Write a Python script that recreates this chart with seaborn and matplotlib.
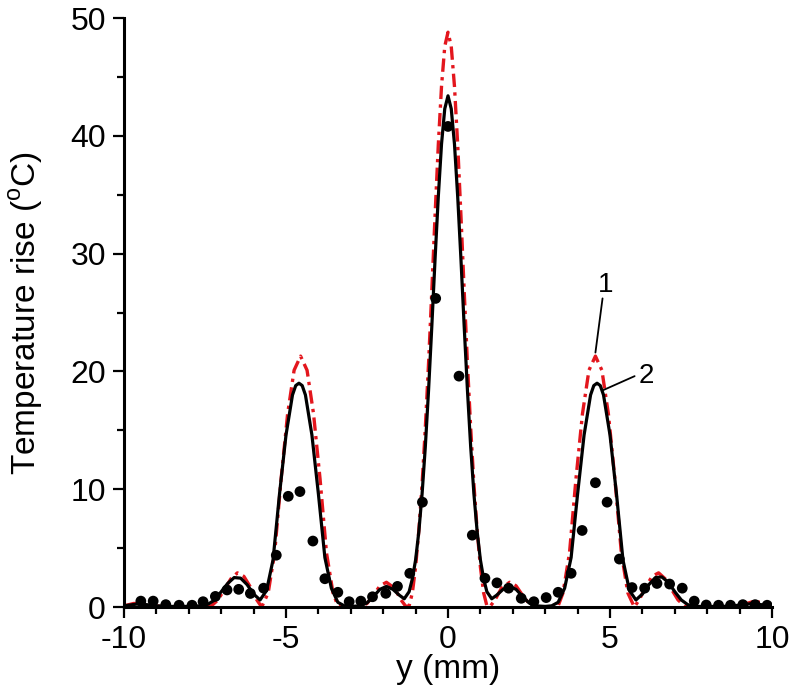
import matplotlib
matplotlib.use("Agg")
import matplotlib.pyplot as plt
import seaborn as sns
from matplotlib.ticker import MultipleLocator

# curve 1 (red dash-dot), y in mm and temperature rise in C
y_curve1 = [-10, -9.7, -9.4, -9.1, -8.7, -8.0, -7.5, -7.3, -7.1, -6.9, -6.7, -6.5, -6.3, -6.1, -5.9,
            -5.75, -5.55, -5.35, -5.15, -4.95, -4.75, -4.55, -4.35, -4.15, -3.95, -3.75, -3.55, -3.4,
            -3.2, -2.9, -2.7, -2.5, -2.3, -2.1, -1.9, -1.65, -1.45, -1.3, -1.2, -1.1, -1.0, -0.9, -0.8,
            -0.7, -0.6, -0.5, -0.4, -0.3, -0.2, -0.1, 0.0, 0.1, 0.2, 0.3, 0.4, 0.5, 0.6, 0.7, 0.8, 0.9,
            1.0, 1.1, 1.2, 1.3, 1.45, 1.65, 1.9, 2.1, 2.3, 2.5, 2.7, 2.9, 3.2, 3.4, 3.55, 3.75, 3.95,
            4.15, 4.35, 4.55, 4.75, 4.95, 5.15, 5.35, 5.55, 5.75, 5.9, 6.1, 6.3, 6.5, 6.7, 6.9, 7.1,
            7.3, 7.5, 8.0, 8.7, 9.1, 9.4, 9.7, 10]
t_curve1 = [0.1, 0.3, 0.3, 0.1, 0.02, 0.0, 0.0, 0.1, 0.6, 1.5, 2.4, 2.9, 2.6, 1.7, 0.6,
            0.0, 1.2, 4.6, 10.9, 16.4, 20.1, 21.3, 20.1, 16.4, 10.9, 4.6, 1.2, 0.1,
            0.0, 0.0, 0.02, 0.3, 1.0, 1.8, 2.1, 1.6, 0.6, 0.05, 0.1, 1.2, 3.4, 6.5, 10.4,
            15.2, 20.7, 26.8, 33.2, 39.2, 44.2, 47.6, 48.8, 47.6, 44.2, 39.2, 33.2, 26.8, 20.7, 15.2, 10.4, 6.5,
            3.4, 1.2, 0.1, 0.05, 0.6, 1.6, 2.1, 1.8, 1.0, 0.3, 0.02, 0.0, 0.0, 0.1, 1.2, 4.6, 10.9,
            16.4, 20.1, 21.3, 20.1, 16.4, 10.9, 4.6, 1.2, 0.0, 0.6, 1.7, 2.6, 2.9, 2.4, 1.5, 0.6,
            0.1, 0.0, 0.0, 0.02, 0.2, 0.45, 0.4, 0.2]

# curve 2 (black solid)
y_curve2 = [-10, -9.6, -9.3, -9.0, -8.5, -8.0, -7.6, -7.4, -7.2, -7.0, -6.8, -6.6, -6.4, -6.2, -6.0,
            -5.8, -5.6, -5.4, -5.2, -5.0, -4.8, -4.7, -4.6, -4.5, -4.4, -4.2, -4.0, -3.8, -3.6, -3.4,
            -3.2, -3.0, -2.7, -2.5, -2.3, -2.1, -1.9, -1.7, -1.5, -1.35, -1.2, -1.1, -1.0, -0.9, -0.8,
            -0.7, -0.6, -0.5, -0.4, -0.3, -0.2, -0.1, 0.0, 0.1, 0.2, 0.3, 0.4, 0.5, 0.6, 0.7, 0.8, 0.9,
            1.0, 1.1, 1.2, 1.35, 1.5, 1.7, 1.9, 2.1, 2.3, 2.5, 2.7, 3.0, 3.2, 3.4, 3.6, 3.8, 4.0, 4.2,
            4.4, 4.5, 4.6, 4.7, 4.8, 5.0, 5.2, 5.4, 5.6, 5.8, 6.0, 6.2, 6.4, 6.6, 6.8, 7.0, 7.2, 7.4,
            7.6, 8.0, 8.5, 9.0, 9.4, 9.8, 10]
t_curve2 = [0.1, 0.25, 0.2, 0.1, 0.05, 0.05, 0.1, 0.25, 0.6, 1.3, 2.0, 2.5, 2.45, 1.9, 1.1,
            0.6, 1.4, 4.0, 9.6, 14.6, 18.0, 18.8, 19.0, 18.8, 18.0, 14.6, 9.6, 4.2, 1.6, 0.4,
            0.1, 0.05, 0.1, 0.35, 0.9, 1.5, 1.75, 1.5, 1.0, 0.7, 1.3, 2.4, 4.0, 6.4, 9.6,
            13.6, 18.4, 23.8, 29.5, 34.8, 39.3, 42.3, 43.4, 42.3, 39.3, 34.8, 29.5, 23.8, 18.4, 13.6, 9.6, 6.4,
            4.0, 2.4, 1.3, 0.7, 1.0, 1.5, 1.75, 1.5, 0.9, 0.35, 0.1, 0.05, 0.1, 0.4, 1.6, 4.2, 9.6, 14.6,
            18.0, 18.8, 19.0, 18.8, 18.0, 14.6, 9.6, 4.0, 1.4, 0.6, 1.1, 1.9, 2.5, 2.55, 2.1, 1.3, 0.6, 0.2,
            0.05, 0.05, 0.05, 0.15, 0.3, 0.15, 0.1]

# measured points (black dots)
y_meas = [-9.48, -9.1, -8.71, -8.3, -7.9, -7.56, -7.18, -6.82, -6.46, -6.1, -5.69, -5.3, -4.93,
          -4.57, -4.17, -3.8, -3.4, -3.05, -2.69, -2.33, -1.92, -1.56, -1.18, -0.79, -0.38, 0.0,
          0.34, 0.75, 1.14, 1.51, 1.87, 2.26, 2.65, 3.03, 3.4, 3.8, 4.14, 4.55, 4.91, 5.29, 5.68,
          6.07, 6.45, 6.84, 7.23, 7.6, 7.97, 8.35, 8.72, 9.1, 9.48, 9.85]
t_meas = [0.5, 0.5, 0.2, 0.15, 0.15, 0.45, 0.9, 1.45, 1.5, 1.15, 1.6, 4.4, 9.4,
          9.8, 5.6, 2.4, 1.25, 0.45, 0.5, 0.87, 1.16, 1.75, 2.86, 8.9, 26.2, 40.8,
          19.6, 6.1, 2.44, 2.05, 1.6, 0.74, 0.45, 0.8, 1.25, 2.86, 6.5, 10.55, 8.9, 4.07, 1.65,
          1.6, 2.0, 1.95, 1.6, 0.5, 0.17, 0.15, 0.15, 0.2, 0.2, 0.15]

sns.set_style("ticks")
plt.rcParams['font.family'] = ['Liberation Sans', 'DejaVu Sans']
plt.rcParams['mathtext.fontset'] = 'custom'
plt.rcParams['mathtext.rm'] = 'Liberation Sans'
plt.rcParams['axes.unicode_minus'] = False
for k in ['text.color', 'axes.labelcolor', 'xtick.color', 'ytick.color', 'axes.edgecolor']:
    plt.rcParams[k] = 'black'

fig = plt.figure(figsize=(8, 6.95), dpi=100)
ax = fig.add_axes([0.155, 0.1266, 0.81, 0.8474])

sns.lineplot(x=y_curve1, y=t_curve1, sort=False, estimator=None, color='#e3161d', lw=2.4,
             linestyle=(0, (4, 1.6, 1, 1.6)), ax=ax, zorder=2)
sns.lineplot(x=y_curve2, y=t_curve2, sort=False, estimator=None, color='black', lw=2.3, ax=ax, zorder=3)
sns.scatterplot(x=y_meas, y=t_meas, color='black', s=60, edgecolor='none', ax=ax, zorder=4)

# curve labels
ax.plot([4.77, 4.55], [26.2, 21.6], color='black', lw=1.3)
ax.text(4.88, 27.3, '1', fontsize=20, ha='center', va='center')
ax.plot([5.76, 4.78], [19.6, 18.4], color='black', lw=1.3)
ax.text(6.12, 19.6, '2', fontsize=20, ha='center', va='center')

ax.set_xlim(-10, 10)
ax.set_ylim(0, 50)
ax.xaxis.set_major_locator(MultipleLocator(5))
ax.xaxis.set_minor_locator(MultipleLocator(1))
ax.yaxis.set_major_locator(MultipleLocator(10))
ax.yaxis.set_minor_locator(MultipleLocator(5))
ax.tick_params(which='major', direction='out', length=8, width=1.6, labelsize=23, pad=5)
ax.tick_params(which='minor', direction='out', length=5, width=1.6)
sns.despine(ax=ax)
for s in ['left', 'bottom']:
    ax.spines[s].set_linewidth(2.2)

ax.set_xlabel('y (mm)', fontsize=24, labelpad=-1)
ax.set_ylabel('Temperature rise ($^{\\rm o}$C)', fontsize=24, labelpad=18)

fig.savefig('out.png', dpi=100)
